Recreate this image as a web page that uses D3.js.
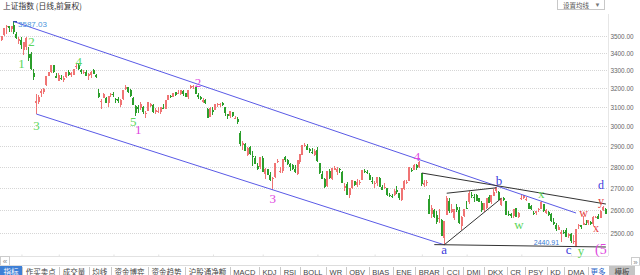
<!DOCTYPE html>
<html><head><meta charset="utf-8">
<script src="https://cdn.jsdelivr.net/npm/d3@7"></script>
<style>
html,body{margin:0;padding:0;background:#fff;overflow:hidden}
svg{display:block}
</style></head><body>
<svg id="c" width="640" height="275"></svg>
<script>
// ---------- DATA ----------
const dates = [
"180122","180123","180124","180125","180126","180129","180130","180131",
"180201","180202","180205","180206","180207","180208","180209","180212","180213","180214","180222","180223","180226","180227","180228",
"180301","180302","180305","180306","180307","180308","180309","180312","180313","180314","180315","180316","180319","180320","180321","180322","180323","180326","180327","180328","180329","180330",
"180402","180403","180404","180409","180410","180411","180412","180413","180416","180417","180418","180419","180420","180423","180424","180425","180426","180427",
"180502","180503","180504","180507","180508","180509","180510","180511","180514","180515","180516","180517","180518","180521","180522","180523","180524","180525","180528","180529","180530","180531",
"180601","180604","180605","180606","180607","180608","180611","180612","180613","180614","180615","180619","180620","180621","180622","180625","180626","180627","180628","180629",
"180702","180703","180704","180705","180706","180709","180710","180711","180712","180713","180716","180717","180718","180719","180720","180723","180724","180725","180726","180727","180730","180731",
"180801","180802","180803","180806","180807","180808","180809","180810","180813","180814","180815","180816","180817","180820","180821","180822","180823","180824","180827","180828","180829","180830","180831",
"180903","180904","180905","180906","180907","180910","180911","180912","180913","180914","180917","180918","180919","180920","180921","180925","180926","180927","180928",
"181008","181009","181010","181011","181012","181015","181016","181017","181018","181019","181022","181023","181024","181025","181026","181029","181030","181031",
"181101","181102","181105","181106","181107","181108","181109","181112","181113","181114","181115","181116","181119","181120","181121","181122","181123","181126","181127","181128","181129","181130",
"181203","181204","181205","181206","181207","181210","181211","181212","181213","181214","181217","181218","181219","181220","181221","181224","181225","181226","181227","181228",
"190102","190103","190104","190107","190108","190109","190110","190111","190114","190115","190116","190117","190118","190121","190122"];

const open = [
3478,3506,3555,3559,3540,3564,3511,3470,
3478,3420,3435,3395,3396,3288,3123,3125,3174,3180,3220,3270,3290,3330,3268,
3243,3256,3245,3264,3291,3274,3277,3320,3328,3303,3284,3292,3270,3274,3300,3273,3173,3124,3150,3149,3120,3163,
3168,3140,3140,3110,3140,3199,3207,3192,3150,3105,3100,3096,3100,3066,3078,3106,3112,3074,
3076,3073,3097,3087,3136,3160,3156,3181,3173,3170,3184,3176,3152,3204,3210,3206,3163,3153,3127,3138,3089,3049,
3084,3086,3113,3110,3122,3098,3062,3051,3073,3041,3039,2967,2903,2911,2856,2894,2852,2840,2803,2800,
2842,2765,2788,2759,2745,2751,2822,2775,2780,2846,2830,2810,2809,2788,2766,2823,2857,2903,2900,2883,2871,2855,
2882,2815,2766,2739,2708,2779,2741,2784,2775,2788,2776,2697,2717,2666,2697,2730,2715,2726,2734,2779,2775,2762,2733,
2716,2720,2746,2703,2697,2697,2668,2663,2667,2690,2676,2645,2694,2729,2733,2785,2785,2805,2799,
2768,2715,2725,2647,2581,2599,2578,2560,2555,2479,2577,2641,2592,2562,2614,2600,2528,2572,
2608,2635,2666,2660,2669,2652,2630,2598,2610,2657,2633,2664,2683,2681,2620,2651,2639,2583,2582,2575,2609,2567,
2647,2654,2645,2629,2619,2588,2587,2602,2603,2624,2588,2589,2581,2547,2533,2514,2497,2505,2513,2487,
2497,2461,2446,2529,2532,2535,2540,2543,2548,2536,2566,2572,2566,2599,2605];

const high = [
3502,3547,3565,3562,3560,3587.03,3524,3495,
3495,3463,3496,3433,3408,3309,3167,3166,3195,3202,3270,3292,3331,3332,3285,
3285,3272,3271,3290,3300,3290,3308,3334,3335,3306,3302,3303,3283,3294,3306,3282,3195,3144,3175,3156,3161,3174,
3180,3149,3152,3142,3191,3220,3208,3195,3153,3109,3113,3124,3107,3078,3129,3122,3114,3094,
3100,3101,3114,3137,3162,3165,3176,3182,3189,3193,3189,3177,3194,3217,3220,3208,3174,3158,3150,3143,3095,3099,
3102,3114,3121,3121,3124,3098,3064,3080,3073,3053,3048,2973,2923,2916,2897,2899,2873,2851,2815,2847,
2851,2793,2790,2772,2748,2815,2834,2798,2838,2850,2834,2815,2812,2808,2829,2860,2906,2916,2909,2892,2888,2883,
2897,2816,2778,2745,2779,2786,2795,2804,2799,2791,2778,2721,2729,2700,2735,2731,2741,2736,2782,2790,2781,2770,2750,
2731,2751,2749,2713,2723,2697,2678,2671,2694,2707,2676,2701,2738,2734,2798,2795,2814,2812,2827,
2769,2737,2737,2665,2620,2603,2596,2604,2561,2551,2663,2653,2626,2606,2624,2613,2575,2603,
2638,2686,2681,2672,2670,2653,2640,2631,2655,2667,2668,2695,2704,2686,2652,2660,2640,2597,2588,2602,2610,2589,
2667,2667,2658,2630,2620,2595,2596,2610,2638,2625,2604,2594,2585,2565,2543,2533,2511,2513,2520,2500,
2501,2489,2516,2536,2533,2574,2554,2556,2553,2571,2575,2583,2598,2618,2607];

const low = [
3470,3502,3513,3526,3524,3510,3483,3450,
3424,3388,3420,3353,3303,3249,3063,3115,3154,3170,3215,3268,3288,3288,3255,
3240,3245,3238,3260,3270,3261,3274,3310,3305,3279,3280,3268,3248,3260,3280,3255,3148,3091,3146,3120,3102,3155,
3151,3120,3123,3102,3136,3190,3175,3155,3108,3053,3069,3086,3065,3042,3077,3100,3068,3062,
3066,3061,3089,3087,3136,3147,3153,3157,3168,3165,3161,3154,3140,3198,3198,3168,3145,3136,3122,3116,3041,3049,
3059,3084,3100,3101,3106,3055,3037,3044,3046,3035,3010,2899,2878,2874,2853,2858,2803,2812,2782,2790,
2775,2742,2759,2732,2691,2745,2815,2771,2771,2821,2805,2780,2783,2771,2762,2813,2856,2896,2878,2867,2859,2850,
2821,2763,2740,2699,2705,2742,2737,2781,2759,2771,2722,2686,2666,2653,2693,2709,2705,2714,2734,2768,2763,2737,2718,
2699,2710,2702,2689,2693,2664,2658,2652,2664,2673,2644,2638,2691,2719,2733,2774,2783,2785,2795,
2710,2704,2710,2580,2562,2565,2536,2544,2486,2449.2,2577,2587,2587,2555,2590,2539,2511,2569,
2606,2628,2651,2637,2640,2635,2590,2590,2605,2631,2628,2662,2675,2645,2617,2641,2576,2575,2566,2563,2567,2563,
2642,2650,2640,2605,2600,2576,2576,2592,2603,2592,2583,2573,2545,2535,2508,2510,2462,2496,2482,2478,
2456,2454,2440.91,2515,2518,2533,2532,2535,2535,2530,2564,2558,2563,2594,2580];

const close = [
3501,3546,3559,3548,3558,3523,3488,3481,
3447,3462,3487,3371,3309,3262,3130,3154,3185,3199,3269,3289,3330,3292,3259,
3274,3255,3257,3290,3272,3288,3307,3327,3310,3291,3291,3270,3279,3291,3281,3263,3153,3134,3167,3122,3161,3169,
3163,3137,3131,3138,3190,3208,3180,3159,3111,3067,3091,3117,3072,3068,3129,3118,3075,3082,
3081,3101,3091,3137,3162,3159,3174,3163,3174,3192,3170,3154,3193,3214,3214,3169,3155,3141,3135,3120,3041,3095,
3075,3114,3114,3115,3110,3067,3053,3080,3050,3044,3022,2908,2916,2876,2890,2859,2845,2813,2787,2847,
2776,2787,2759,2734,2747,2815,2828,2778,2838,2831,2814,2798,2787,2773,2829,2860,2906,2904,2882,2874,2869,2876,
2825,2768,2740,2705,2779,2744,2794,2795,2786,2781,2723,2706,2669,2698,2734,2715,2725,2729,2781,2778,2769,2738,2725,
2721,2751,2704,2692,2702,2669,2665,2656,2687,2682,2652,2700,2731,2729,2797,2781,2807,2792,2821,
2717,2721,2726,2583,2607,2568,2546,2562,2486,2550,2655,2595,2603,2604,2599,2542,2568,2603,
2606,2676,2665,2659,2641,2636,2599,2631,2655,2632,2668,2679,2704,2645,2652,2646,2579,2576,2575,2602,2567,2588,
2655,2666,2650,2605,2606,2585,2594,2602,2634,2594,2598,2577,2550,2536,2516,2527,2505,2498,2483,2494,
2465,2464,2515,2533,2526,2544,2535,2554,2536,2570,2570,2560,2596,2611,2580];

const yTicks = [2500,2600,2700,2800,2900,3000,3100,3200,3300,3400,3500];

// extreme markers
const maxMark = {date:"180129", value:3587.03, text:"3587.03"};
const minMark = {date:"190104", value:2440.91, text:"2440.91"};

// wave labels: text, date, price, group
const waveText  = ["1","2","3","4","5","1","2","3","4","a","b","w","x","c","y","(5","d","y","w","x"];
const waveDate  = ["180201","180207","180209","180313","180416","180418","180524","180706","180927","181019","181120","181130","181213","181228","190108","190118","190118","190118","190109","190116"];
const wavePrice = [3342,3470,3001,3348,3022,2985,3235,2649,2846,2428,2736,2534,2676,2428,2424,2428,2712,2638,2586,2521];
const waveGroup = ["g","g","g","g","g","m","m","m","m","b","b","g","g","b","g","m","b","r","r","r"];

// trend lines: [date, price] pairs
const trendFrom  = [["180129",3587.03],["180209",3062.74],["181008",2769],["181022",2675],["181019",2449.2],["181015",2450]];
const trendTo    = [["190104",2586],["181019",2449.2],["190122",2626],["181119",2700],["181121",2652],["190122",2440]];
const trendKind  = ["blue","blue","black","black","black","black"];

const tabs = ["指标","作买卖点","成交量","均线","资金博弈","资金趋势","沪股通净额","MACD","KDJ","RSI","BOLL","WR","OBV","BIAS","ENE","BRAR","CCI","DMI","DKX","CR","PSY","KD","DMA"];
const extraTabs = ["更多","模板"];

[open,high,low,close].forEach((a,i)=>{ if(a.length!==dates.length) throw new Error("len mismatch "+i+": "+a.length+" vs "+dates.length); });

// ---------- STYLES ----------
const groupColor = {g:"#5cd65c", m:"#e046e0", b:"#3c3cdc", r:"#e63c3c"};
const lineColor = {blue:"#5a5ae6", black:"#333"};
const UP = "#f07474", DOWN = "#2b9e2b";
const CJK = "'Noto Sans CJK SC', sans-serif";
const LAT = "'Liberation Sans', Arial, sans-serif";

// ---------- SCALES ----------
const svg = d3.select("#c");
const plotRight = 608;
const x = d3.scalePoint().domain(dates).range([1.56, 605.9]);
const y = d3.scaleLog().domain([2500,3500]).range([232.8, 36]);

// grid
svg.append("g").selectAll("line").data(yTicks).join("line")
  .attr("x1",0).attr("x2",plotRight)
  .attr("y1",d=>Math.round(y(d))+0.5).attr("y2",d=>Math.round(y(d))+0.5)
  .attr("stroke","#d6d6d6").attr("stroke-dasharray","1,1");

// right axis
const ax = svg.append("g").attr("transform",`translate(${plotRight+0.5},0)`)
  .call(d3.axisRight(y).tickValues(yTicks).tickFormat(d3.format(".2f")).tickSize(0).tickPadding(2));
ax.select(".domain").attr("stroke","#e6e6e6").attr("d","M0,14V256");
ax.selectAll("text").attr("font-family",LAT).attr("font-size",8).attr("fill","#666")
  .attr("textLength",23).attr("lengthAdjust","spacingAndGlyphs");

// bottom axis (month ticks)
const monthStarts = dates.filter((d,i)=> i===0 || d.slice(2,4)!==dates[i-1].slice(2,4));
const bx = svg.append("g").attr("transform","translate(0,256.5)")
  .call(d3.axisTop(x).tickValues(monthStarts.slice(1)).tickFormat("").tickSizeOuter(0).tickSizeInner(2));
bx.select(".domain").attr("stroke","#e2e2e2").attr("d","M0,0H"+plotRight);
bx.selectAll(".tick line").attr("stroke","#e2e2e2");

// candles
const idx = d3.range(dates.length);
const cg = svg.append("g").attr("shape-rendering","crispEdges");
cg.selectAll("rect.w").data(idx).join("rect").attr("class","w")
  .attr("x",i=>x(dates[i])-0.5).attr("width",1)
  .attr("y",i=>y(high[i])).attr("height",i=>Math.max(1,y(low[i])-y(high[i])))
  .attr("fill",i=>close[i]>=open[i]?UP:DOWN);
cg.selectAll("rect.b").data(idx).join("rect").attr("class","b")
  .attr("x",i=>x(dates[i])-1).attr("width",2)
  .attr("y",i=>y(Math.max(open[i],close[i])))
  .attr("height",i=>Math.max(1,Math.abs(y(open[i])-y(close[i]))))
  .attr("fill",i=>close[i]>=open[i]?UP:DOWN);

// trend lines
svg.append("g").selectAll("line").data(d3.range(trendFrom.length)).join("line")
  .attr("x1",i=>x(trendFrom[i][0])).attr("y1",i=>y(trendFrom[i][1]))
  .attr("x2",i=>x(trendTo[i][0])).attr("y2",i=>y(trendTo[i][1]))
  .attr("stroke",i=>lineColor[trendKind[i]]).attr("stroke-width",1);

// max/min markers
const mx = x(maxMark.date), my = y(maxMark.value);
svg.append("line").attr("x1",mx-1).attr("x2",mx+3).attr("y1",my).attr("y2",my).attr("stroke","#2a4aa8").attr("stroke-width",1.2);
svg.append("text").attr("x",mx+4).attr("y",my+5).attr("font-family",LAT).attr("font-size",8)
  .attr("fill","#4a95dc").text(maxMark.text);
const nx = x(minMark.date), ny = y(minMark.value);
svg.append("text").attr("x",nx-17).attr("y",ny-1.5).attr("text-anchor","end").attr("font-family",LAT).attr("font-size",7)
  .attr("fill","#3b7bd4").text(minMark.text);

// wave labels
svg.append("g").selectAll("text").data(d3.range(waveText.length)).join("text")
  .attr("x",i=>x(waveDate[i])).attr("y",i=>y(wavePrice[i]))
  .attr("text-anchor","middle").attr("dominant-baseline","central")
  .attr("font-family","'Liberation Serif','DejaVu Serif',serif")
  .attr("font-size",i=>waveText[i]==="(5"?14:(i>=16?12:13))
  .attr("fill",i=>groupColor[waveGroup[i]]).text(i=>waveText[i]);

// title
svg.append("text").attr("x",3).attr("y",8.5).attr("font-family",CJK).attr("font-size",8).attr("fill","#333")
  .attr("textLength",79).attr("lengthAdjust","spacingAndGlyphs").text("上证指数 (日线,前复权)");

// button
svg.append("rect").attr("x",557.5).attr("y",-0.5).attr("width",47).attr("height",10).attr("fill","#fff").attr("stroke","#c8c8c8");
svg.append("text").attr("x",563).attr("y",7.5).attr("font-family",CJK).attr("font-size",6.5).attr("fill","#555").text("设置均线");
svg.append("text").attr("x",597.5).attr("y",7).attr("text-anchor","middle").attr("font-family",LAT).attr("font-size",6).attr("fill","#777").text("▼");

// scroll arrows
svg.append("rect").attr("x",0.5).attr("y",256.5).attr("width",9).attr("height",9).attr("fill","#fff").attr("stroke","#ccc");
svg.append("text").attr("x",5).attr("y",264).attr("text-anchor","middle").attr("font-family",LAT).attr("font-size",8).attr("fill","#888").text("«");
svg.append("rect").attr("x",631.5).attr("y",257.5).attr("width",8).attr("height",8).attr("fill","#fff").attr("stroke","#ccc");
svg.append("text").attr("x",635.5).attr("y",264.5).attr("text-anchor","middle").attr("font-family",LAT).attr("font-size",8).attr("fill","#888").text("»");

// tabs
const tg = svg.append("g");
const fontFor = t => /[A-Z]/.test(t) ? LAT : CJK;
const tabFs = 7.5;
const widths = tabs.map(t=>{ const el = tg.append("text").attr("font-size",tabFs).attr("font-family",fontFor(t)).text(t);
  const w = el.node().getComputedTextLength(); el.remove(); return w; });
const pad = (588 - d3.sum(widths)) / (2*tabs.length);
const tabTop = 266, baseY = 274.5;
tg.append("line").attr("x1",0).attr("x2",640).attr("y1",tabTop-0.5).attr("y2",tabTop-0.5).attr("stroke","#ddd");
let cur = 0;
tabs.forEach((t,i)=>{
  const w = widths[i]+2*pad;
  if(i===0) tg.append("rect").attr("x",0).attr("y",tabTop).attr("width",w).attr("height",275-tabTop).attr("fill","#3d7fd6");
  tg.append("text").attr("x",cur+w/2).attr("y",baseY).attr("text-anchor","middle")
    .attr("font-family",fontFor(t)).attr("font-size",tabFs).attr("fill",i===0?"#fff":"#444").text(t);
  cur += w;
  tg.append("line").attr("x1",Math.round(cur)+0.5).attr("x2",Math.round(cur)+0.5).attr("y1",tabTop+1).attr("y2",275).attr("stroke","#c8c8c8");
});
tg.append("text").attr("x",cur+10).attr("y",baseY).attr("text-anchor","middle").attr("font-family",CJK).attr("font-size",tabFs).attr("fill","#2a63c8").text(extraTabs[0]);
tg.append("rect").attr("x",609).attr("y",tabTop).attr("width",26).attr("height",275-tabTop).attr("fill","#c4c4c4");
tg.append("text").attr("x",622).attr("y",baseY).attr("text-anchor","middle").attr("font-family",CJK).attr("font-size",tabFs).attr("fill","#444").text(extraTabs[1]);
</script>
</body></html>
